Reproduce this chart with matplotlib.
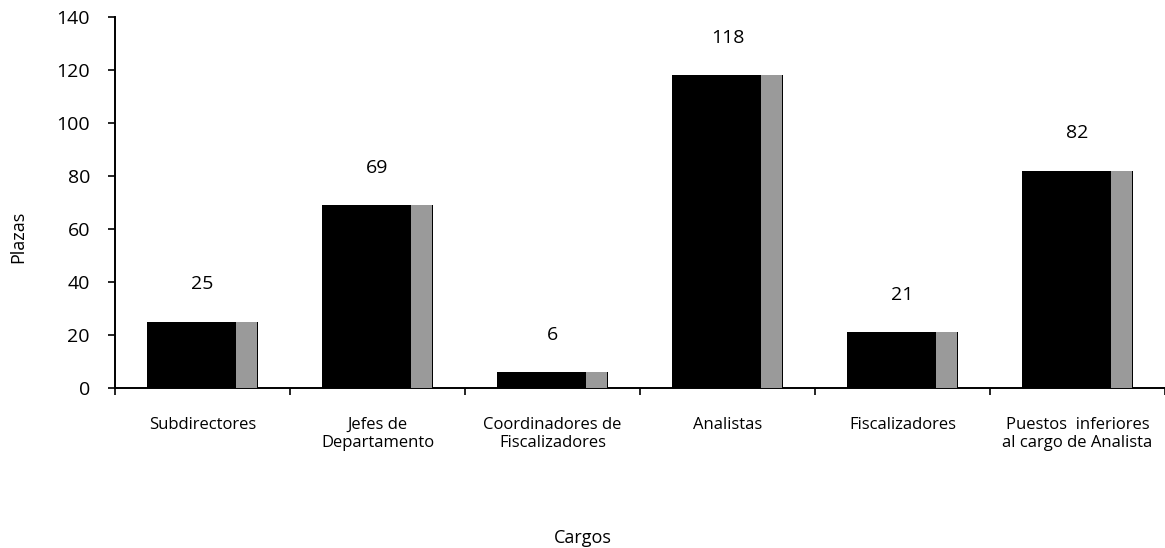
import matplotlib
matplotlib.use("Agg")
import matplotlib.pyplot as plt
import numpy as np

categories = ["Subdirectores", "Jefes de\nDepartamento", "Coordinadores de\nFiscalizadores",
              "Analistas", "Fiscalizadores", "Puestos  inferiores\nal cargo de Analista"]
values = [25, 69, 6, 118, 21, 82]
y_ticks = [0, 20, 40, 60, 80, 100, 120, 140]

plt.rcParams['font.family'] = ['Open Sans', 'DejaVu Sans']

fig = plt.figure(figsize=(11.65, 5.48), dpi=100)
ax = fig.add_axes([0.0987, 0.292, 0.9013, 0.677])

x = np.arange(len(categories))
bw = 0.63
strip = 0.12
ax.bar(x, values, width=bw, color='black', zorder=2)
# scanned lighter strip on the right side of each bar
ax.bar(x + bw / 2 - strip / 2 - 0.005, values, width=strip, color='#9a9a9a', zorder=3)

for xi, v in zip(x, values):
    ax.annotate(str(v), (xi, v), xytext=(0, 27), textcoords='offset points',
                ha='center', va='center', fontsize=14)

ax.set_xlim(-0.5, len(categories) - 0.5)
ax.set_ylim(0, 140)
ax.set_yticks(y_ticks)
ax.tick_params(axis='y', labelsize=14, length=5, direction='out', width=1.2, pad=13)

ax.set_xticks(np.arange(-0.5, len(categories), 1.0))
ax.set_xticklabels([])
ax.set_xticks(x, minor=True)
ax.set_xticklabels(categories, minor=True, fontsize=12, linespacing=1.15)
ax.tick_params(axis='x', which='major', length=5, width=1.2, direction='out')
ax.tick_params(axis='x', which='minor', length=0, pad=21)

for s in ['top', 'right']:
    ax.spines[s].set_visible(False)
for s in ['left', 'bottom']:
    ax.spines[s].set_linewidth(1.4)

fig.text(0.5, 0.018, "Cargos", ha='center', va='center', fontsize=13)
fig.text(0.016, 0.567, "Plazas", ha='center', va='center', rotation=90, fontsize=13)

fig.savefig("out.png", dpi=100)
